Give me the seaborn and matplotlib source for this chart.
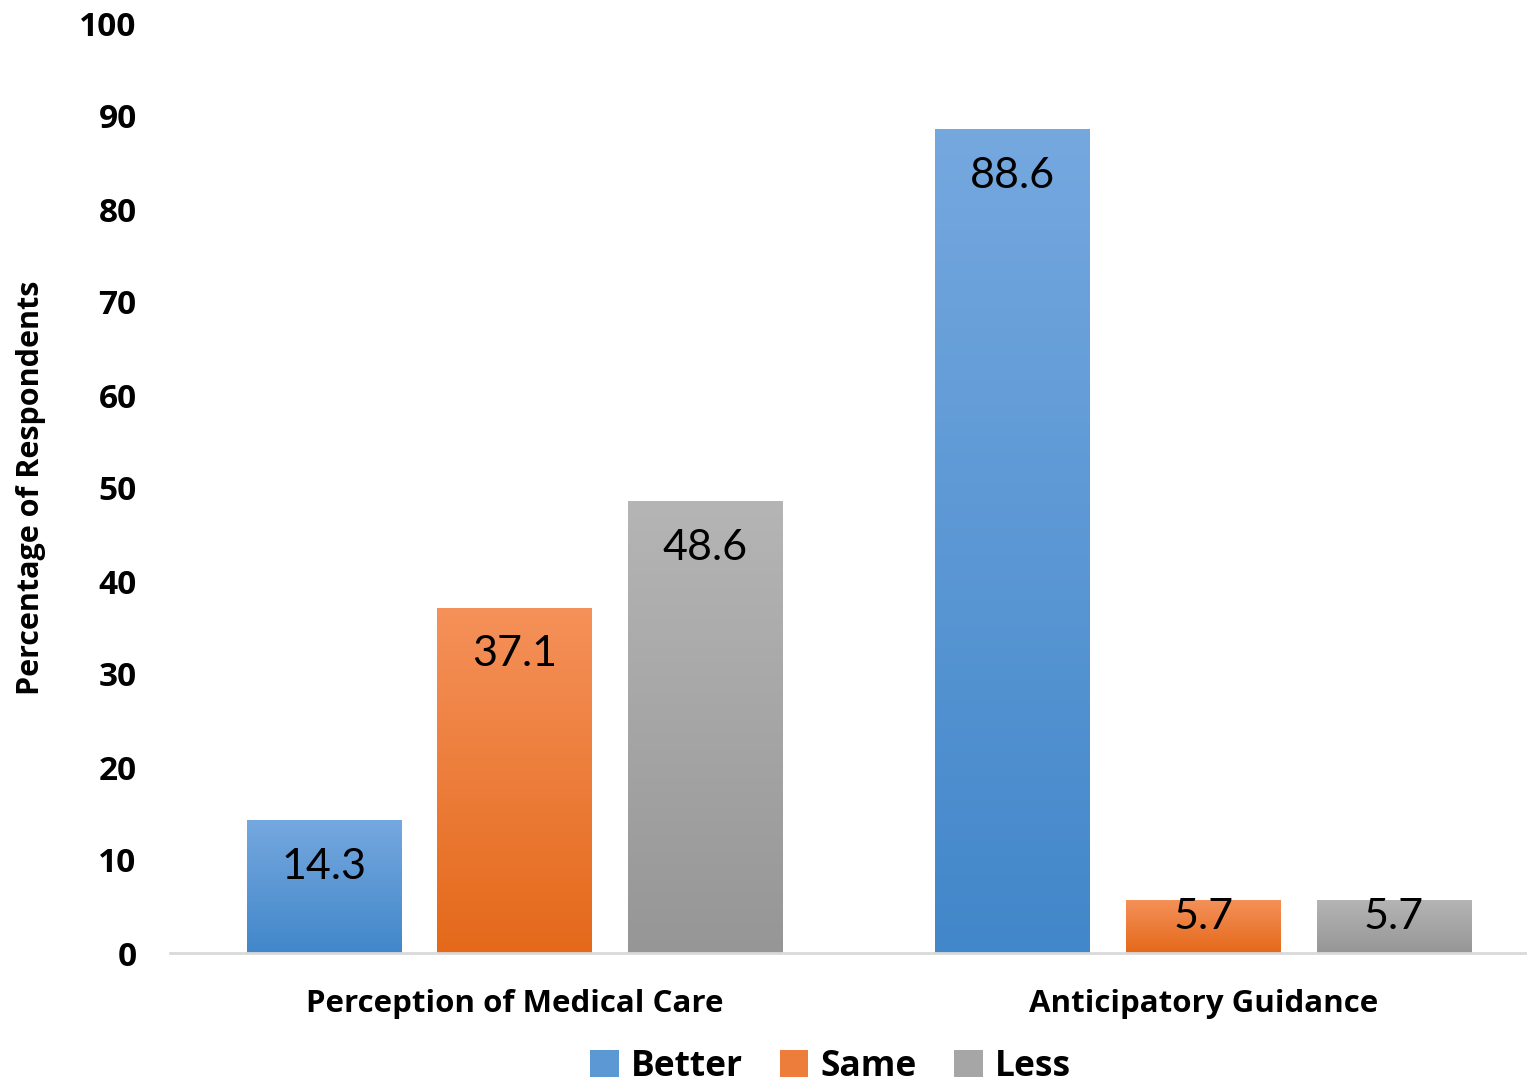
import numpy as np
import pandas as pd
import matplotlib
matplotlib.use("Agg")
import matplotlib.pyplot as plt
import matplotlib.colors as mcolors
from matplotlib.patches import Patch
import seaborn as sns

categories = ["Perception of Medical Care", "Anticipatory Guidance"]
series = ["Better", "Same", "Less"]
better = [14.3, 88.6]
same = [37.1, 5.7]
less = [48.6, 5.7]
yticks = [0, 10, 20, 30, 40, 50, 60, 70, 80, 90, 100]

grad = {
    "Better": ("#75A8DF", "#4287CA"),
    "Same": ("#F5915A", "#E4691A"),
    "Less": ("#B5B5B5", "#969696"),
}

df = pd.DataFrame({
    "Category": categories * 3,
    "Response": [s for s in series for _ in categories],
    "Value": better + same + less,
})

sns.set_theme(style="white")
plt.rcParams["font.family"] = ["Lato", "DejaVu Sans"]
plt.rcParams["text.color"] = "black"
plt.rcParams["xtick.color"] = "black"
plt.rcParams["ytick.color"] = "black"
plt.rcParams["axes.labelcolor"] = "black"
BOLD = ["Open Sans", "DejaVu Sans"]

fig = plt.figure(figsize=(15.27, 10.90), dpi=100)
ax = fig.add_axes([170 / 1527, 1 - 953 / 1090, 1 - 170 / 1527, (953 - 23) / 1090])

mid = {k: mcolors.to_hex(np.mean([mcolors.to_rgb(a), mcolors.to_rgb(b)], axis=0)) for k, (a, b) in grad.items()}
sns.barplot(data=df, x="Category", y="Value", hue="Response", order=categories,
            hue_order=series, palette=mid, width=0.83, gap=0.19, ax=ax,
            legend=False, edgecolor="none", saturation=1)

ax.set_ylim(0, 100)
ax.set_xlim(-0.5, 1.47)

# gradient fill per bar
for container, name in zip(ax.containers, series):
    top, bot = grad[name]
    cmap = mcolors.LinearSegmentedColormap.from_list(name, [top, bot])
    for bar, v in zip(container.patches, container.datavalues):
        x0, w, h = bar.get_x(), bar.get_width(), bar.get_height()
        img = ax.imshow(np.linspace(0, 1, 256).reshape(-1, 1), cmap=cmap, aspect="auto",
                        extent=(x0, x0 + w, 0, h), origin="upper", zorder=2,
                        interpolation="bilinear")
        img.set_clip_path(bar)
        bar.set_facecolor("none")
        ytxt = v - 5.0 if v > 10 else v - 1.8
        ax.text(x0 + w / 2, ytxt, f"{v:.1f}", ha="center", va="center",
                fontsize=31, color="black", zorder=3)

ax.set_xlim(-0.5, 1.47)
ax.set_ylim(0, 100)
ax.set_yticks(yticks)
ax.set_yticklabels([str(t) for t in yticks], fontsize=24, fontweight="bold", family=BOLD,
                   color="black")
ax.tick_params(axis="y", length=0, pad=24)
ax.tick_params(axis="x", length=0, pad=26)
for lab in ax.get_xticklabels():
    lab.set_fontsize(22.5)
    lab.set_fontweight("bold")
    lab.set_family(BOLD)
    lab.set_color("black")
ax.set_xlabel("")
ax.set_ylabel("Percentage of Respondents", fontsize=22, fontweight="bold", family=BOLD,
              color="black")
ax.yaxis.set_label_coords(-(170 - 46) / 1357, 0.5)

for s in ["top", "right", "left"]:
    ax.spines[s].set_visible(False)
ax.spines["bottom"].set_color("#D9D9D9")
ax.spines["bottom"].set_linewidth(2)

handles = [Patch(facecolor=mid[s], edgecolor="none", label=s) for s in series]
leg = fig.legend(handles=handles, loc="center", bbox_to_anchor=(0.544, 0.021), ncol=3,
                 frameon=False, prop={"size": 25.5, "weight": "bold", "family": BOLD},
                 handlelength=0.8, handleheight=0.8, handletextpad=0.35, columnspacing=1.05,
                 borderpad=0.1)
for t in leg.get_texts():
    t.set_color("black")

fig.savefig("out.png", dpi=100)
